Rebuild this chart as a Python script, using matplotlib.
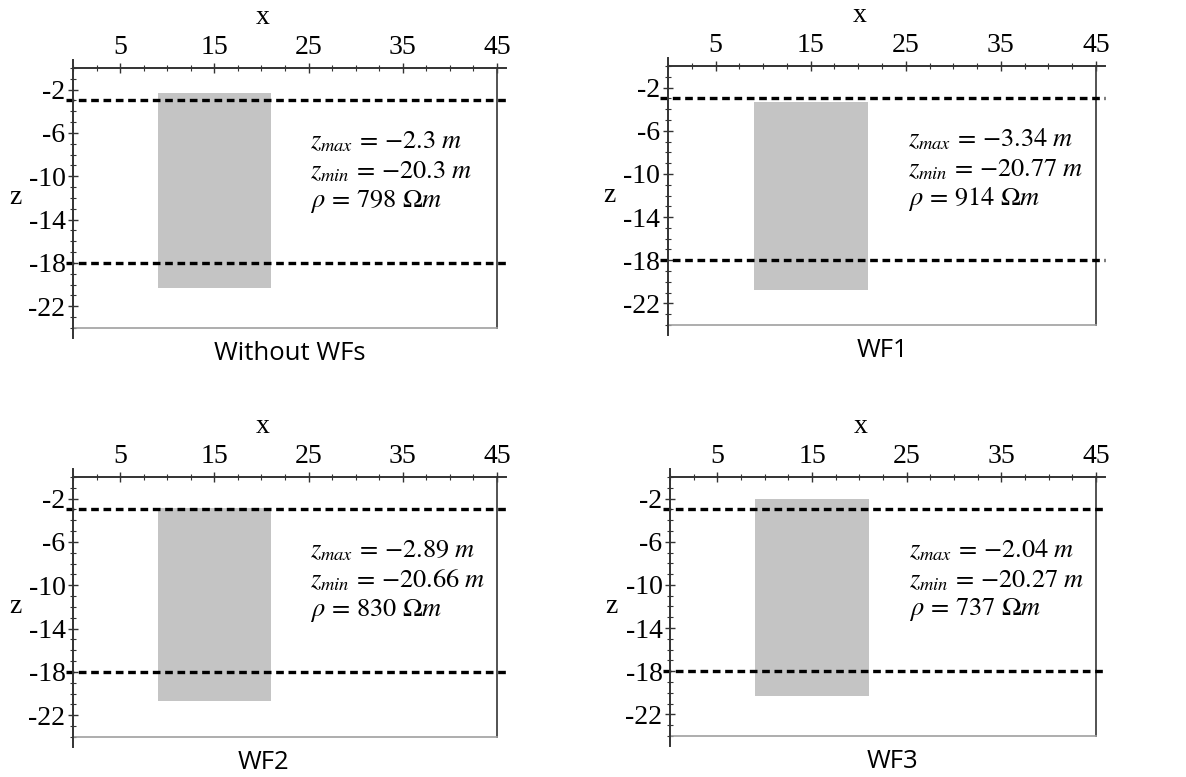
import matplotlib
matplotlib.use("Agg")
import matplotlib.pyplot as plt
from matplotlib.patches import Rectangle
from matplotlib.ticker import FixedLocator, MultipleLocator

# inversion results for the buried body, one panel per weighting case
panel_titles = ["Without WFs", "WF1", "WF2", "WF3"]
body_x = [9, 21]
z_max = [-2.3, -3.34, -2.89, -2.04]
z_min = [-20.3, -20.77, -20.66, -20.27]
rho = [798, 914, 830, 737]

# true layer boundaries (dashed)
layer_z = [-3, -18]

x_ticks = [5, 15, 25, 35, 45]
z_ticks = [-2, -6, -10, -14, -18, -22]

plt.rcParams["mathtext.fontset"] = "stix"
serif = "Liberation Serif"

fig = plt.figure(figsize=(11.86, 7.77), dpi=100)

# [left, bottom, width, height] of each panel
boxes = [
    [0.0616, 0.5779, 0.3575, 0.3346],
    [0.5632, 0.5817, 0.3609, 0.3333],
    [0.0616, 0.0515, 0.3575, 0.3346],
    [0.5650, 0.0528, 0.3592, 0.3333],
]
title_x = [0.511, 0.502, 0.449, 0.521]

for i, box in enumerate(boxes):
    ax = fig.add_axes(box)
    ax.set_xlim(0, 45)
    ax.set_ylim(-24, 0)

    ax.add_patch(Rectangle((body_x[0], z_min[i]), body_x[1] - body_x[0],
                           z_max[i] - z_min[i], facecolor="#c4c4c4",
                           edgecolor="none", zorder=1))
    for zl in layer_z:
        ax.plot([-0.8, 45.9], [zl, zl], color="black", lw=2.4,
                ls=(0, (2.3, 1.4)), clip_on=False, zorder=3)

    # frame: heavy left/top axes that overrun the box, thin right/bottom
    for s in ["left", "top"]:
        ax.spines[s].set_visible(False)
    ax.spines["right"].set_color("#444444")
    ax.spines["right"].set_linewidth(1.3)
    ax.spines["bottom"].set_color("#a0a0a0")
    ax.spines["bottom"].set_linewidth(1.2)
    ax.plot([0, 0], [0.7, -24.9], color="#333333", lw=1.4,
            clip_on=False, zorder=4)
    ax.plot([0, 45.9], [0, 0], color="#333333", lw=1.4,
            clip_on=False, zorder=4)

    ax.xaxis.tick_top()
    ax.xaxis.set_major_locator(FixedLocator(x_ticks))
    ax.xaxis.set_minor_locator(MultipleLocator(2.5))
    ax.yaxis.set_major_locator(FixedLocator(z_ticks))
    ax.yaxis.set_minor_locator(MultipleLocator(1))
    ax.tick_params(axis="both", which="major", direction="inout",
                   length=7, width=1, color="#333333", labelsize=20,
                   pad=2)
    ax.tick_params(axis="both", which="minor", direction="inout",
                   length=4, width=0.8, color="#333333")
    ax.tick_params(axis="y", which="both", right=False)
    ax.tick_params(axis="x", which="both", bottom=False)
    ax.set_yticklabels([str(t) for t in z_ticks])
    for lab in ax.get_xticklabels() + ax.get_yticklabels():
        lab.set_fontfamily(serif)

    ax.text(0.447, 1.196, "x", transform=ax.transAxes, ha="center",
            va="center", fontsize=20, family=serif)
    ax.text(-0.137, 0.5, "z", transform=ax.transAxes, ha="center",
            va="center", fontsize=20, family=serif)
    ax.text(title_x[i], -0.10, panel_titles[i], transform=ax.transAxes,
            ha="center", va="center", fontsize=18.5, family="Open Sans")

    lines = [rf"$z_{{max}}\,=\,{{-}}{abs(z_max[i])}\ m$",
             rf"$z_{{min}}\,=\,{{-}}{abs(z_min[i])}\ m$",
             rf"$\rho\,=\,{rho[i]}\ \Omega m$"]
    for k, line in enumerate(lines):
        ax.text(25.2, -6.8 - 2.75 * k, line, ha="left", va="center",
                fontsize=19)

fig.savefig("out.png", dpi=100)
